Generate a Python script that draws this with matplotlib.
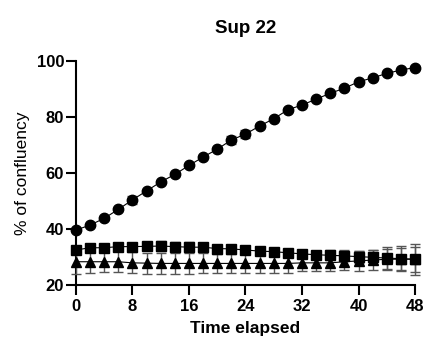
import matplotlib.pyplot as plt
import numpy as np

plt.rcParams["font.family"] = ["Liberation Sans", "DejaVu Sans"]

TIME = np.arange(0, 49, 2)
CIRCLE = [39.6, 41.4, 43.8, 47.0, 50.4, 53.6, 56.8, 59.5, 62.7, 65.7, 68.5, 71.8, 73.9,
          76.8, 79.4, 82.6, 84.3, 86.4, 88.5, 90.3, 92.6, 94.0, 95.6, 96.8, 97.7]
CIRCLE_ERR = [0.5, 0.5, 0.5, 0.6, 1.3, 0.5, 0.5, 0.5, 0.5, 0.5, 0.6, 1.3, 1.4,
              0.6, 0.6, 0.5, 0.5, 0.5, 0.5, 0.5, 0.5, 0.5, 0.5, 0.5, 0.5]
SQUARE = [32.5, 33.3, 33.3, 33.7, 33.7, 33.8, 33.9, 33.7, 33.5, 33.5, 33.0, 32.9, 32.5,
          32.1, 31.9, 31.5, 31.1, 30.8, 30.6, 30.4, 30.1, 29.9, 29.6, 29.4, 29.2]
SQUARE_ERR = [0.8, 0.8, 0.9, 0.9, 1.0, 1.2, 1.8, 1.8, 1.8, 1.5, 1.4, 1.4, 1.3,
              1.3, 1.3, 1.3, 1.3, 1.5, 1.8, 2.0, 2.2, 2.5, 4.0, 4.5, 5.5]
TRIANGLE = [28.3, 28.3, 28.3, 28.3, 27.9, 27.8, 27.7, 27.7, 27.7, 27.7, 27.7, 27.7, 27.7,
            27.7, 27.7, 27.7, 27.9, 27.9, 27.9, 28.3, 28.6, 28.9, 29.2, 29.2, 29.2]
TRIANGLE_ERR = [4.3, 4.0, 3.8, 3.8, 3.8, 3.8, 3.8, 3.8, 3.8, 3.6, 3.5, 3.5, 3.4,
                3.4, 3.4, 3.3, 3.0, 3.0, 3.0, 2.8, 3.5, 3.5, 3.8, 4.0, 4.5]

fig = plt.figure(figsize=(4.24, 3.45), dpi=100)
ax = fig.add_axes([0.179, 0.174, 0.8, 0.649])

for y, err, m, ms in [(TRIANGLE, TRIANGLE_ERR, "^", 7),
                      (SQUARE, SQUARE_ERR, "s", 7),
                      (CIRCLE, CIRCLE_ERR, "o", 7.5)]:
    ax.errorbar(TIME, y, yerr=err, fmt=m + "-", color="black", ms=ms,
                lw=0.8, ecolor="#555555", elinewidth=1, capsize=3.5, capthick=1,
                clip_on=False, zorder=3)

ax.set_xlim(0, 48)
ax.set_ylim(20, 100)
ax.set_xticks(np.arange(0, 49, 8))
ax.set_yticks(np.arange(20, 101, 20))
ax.spines[["right", "top"]].set_visible(False)
ax.spines[["left", "bottom"]].set_linewidth(1.5)
ax.tick_params(width=1.5, length=7, labelsize=12, pad=3)
ax.tick_params(axis="y", pad=1.5)
for lab in ax.get_xticklabels() + ax.get_yticklabels():
    lab.set_fontweight("bold")
ax.set_xlabel("Time elapsed", fontsize=12.5, fontweight="bold", labelpad=5)
ax.set_ylabel("% of confluency", fontsize=12.5, labelpad=5)
ax.set_title("Sup 22", fontsize=13.5, fontweight="bold", pad=20)

plt.savefig("out.png", dpi=100)
